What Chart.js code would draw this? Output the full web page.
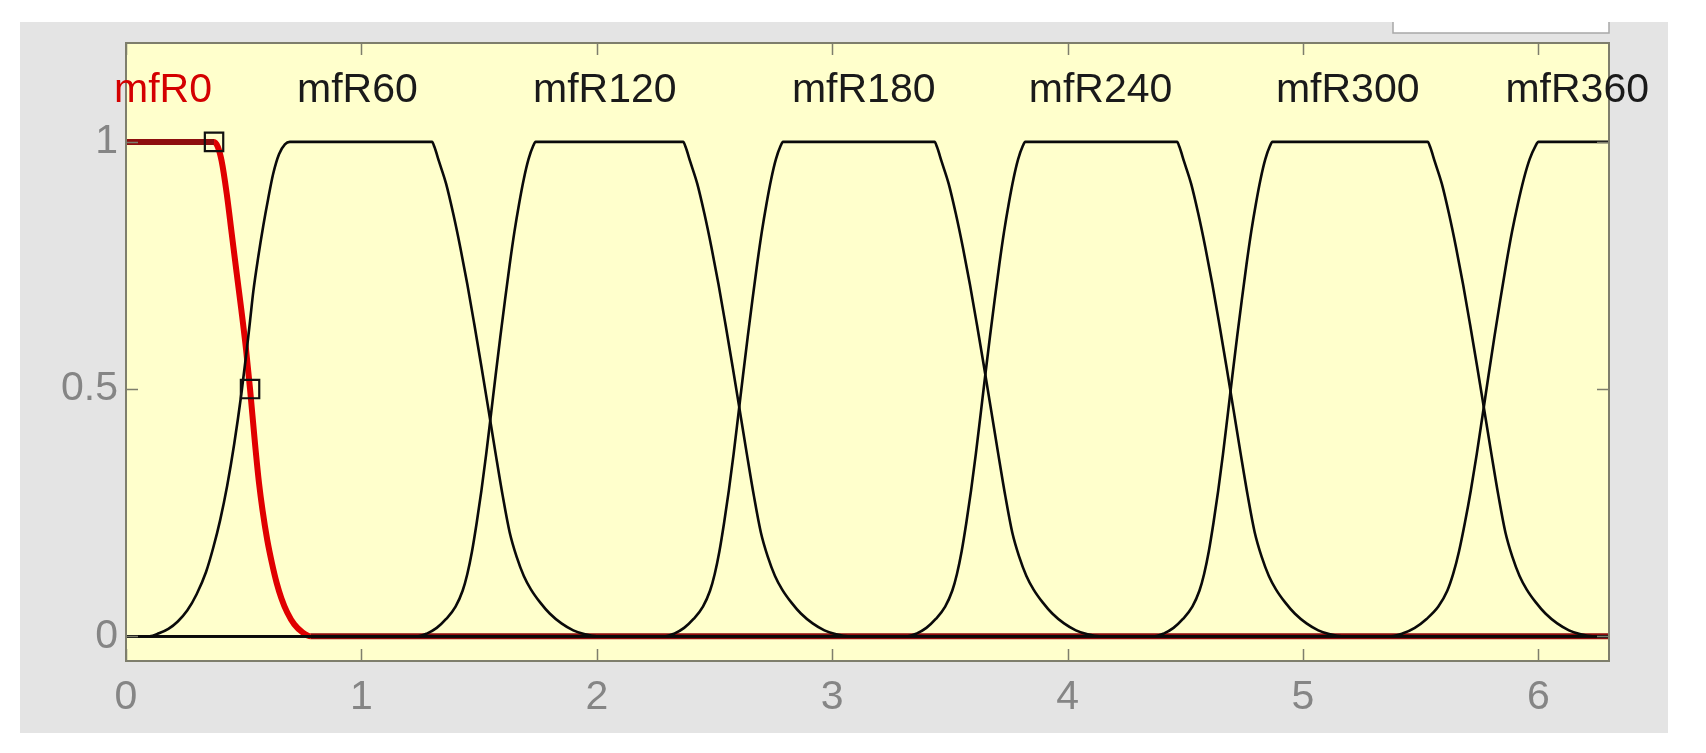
<!DOCTYPE html>
<html><head><meta charset="utf-8">
<style>html,body{margin:0;padding:0;background:#fff;}canvas{display:block;}</style>
<script src="https://cdn.jsdelivr.net/npm/chart.js@4.4.1/dist/chart.umd.min.js"></script>
</head><body>
<canvas id="c" width="1706" height="753"></canvas>
<script>
// ---- data ----
const xTicks = [0, 1, 2, 3, 4, 5, 6];
const yTicks = [0, 0.5, 1];
const mfNames = ['mfR0', 'mfR60', 'mfR120', 'mfR180', 'mfR240', 'mfR300', 'mfR360'];
const labelX = [0.157, 0.983, 2.034, 3.134, 4.14, 5.19, 6.165];
const labelY = 1.103;

const mfR0X = [0, 0.374, 0.39, 0.406, 0.428, 0.449, 0.47, 0.49, 0.51, 0.527, 0.548, 0.565, 0.58, 0.60, 0.62, 0.64, 0.66, 0.685, 0.715, 0.75, 0.785, 6.3];
const mfR0Y = [1, 1, 0.99, 0.962, 0.895, 0.815, 0.735, 0.66, 0.58, 0.50, 0.39, 0.31, 0.255, 0.195, 0.148, 0.108, 0.077, 0.048, 0.024, 0.008, 0, 0];

const mfR60X = [0, 0.10, 0.14, 0.18, 0.22, 0.26, 0.30, 0.34, 0.37, 0.40, 0.43, 0.46, 0.49, 0.512, 0.527, 0.541, 0.562, 0.583, 0.604, 0.625, 0.65, 0.675, 0.696,
  1.30, 1.31, 1.33, 1.36, 1.39, 1.42, 1.45, 1.48, 1.51, 1.54, 1.57, 1.60, 1.63, 1.66, 1.69, 1.72, 1.76, 1.80, 1.85, 1.90, 1.95, 2.0, 6.3];
const mfR60Y = [0, 0, 0.006, 0.015, 0.03, 0.052, 0.085, 0.13, 0.178, 0.235, 0.305, 0.39, 0.49, 0.575, 0.638, 0.698, 0.768, 0.83, 0.885, 0.935, 0.975, 0.995, 1,
  1, 0.99, 0.96, 0.915, 0.855, 0.787, 0.712, 0.63, 0.545, 0.458, 0.37, 0.285, 0.21, 0.16, 0.122, 0.095, 0.068, 0.046, 0.026, 0.012, 0.004, 0, 0];

const mfR120X = [0, 1.24, 1.28, 1.32, 1.36, 1.40, 1.43, 1.45, 1.47, 1.49, 1.51, 1.53, 1.55, 1.57, 1.59, 1.61, 1.63, 1.65, 1.67, 1.69, 1.71, 1.73, 1.74,
  2.367, 2.377, 2.397, 2.427, 2.457, 2.487, 2.517, 2.547, 2.577, 2.607, 2.637, 2.667, 2.697, 2.727, 2.757, 2.787, 2.827, 2.867, 2.917, 2.967, 3.017, 3.067, 6.3];
const mfR120Y = [0, 0, 0.006, 0.017, 0.035, 0.06, 0.092, 0.126, 0.172, 0.23, 0.295, 0.368, 0.447, 0.527, 0.605, 0.68, 0.752, 0.818, 0.875, 0.925, 0.965, 0.992, 1,
  1, 0.99, 0.96, 0.915, 0.855, 0.787, 0.712, 0.63, 0.545, 0.458, 0.37, 0.285, 0.21, 0.16, 0.122, 0.095, 0.068, 0.046, 0.026, 0.012, 0.004, 0, 0];

const mfR180X = [0, 2.291, 2.331, 2.371, 2.411, 2.451, 2.481, 2.501, 2.521, 2.541, 2.561, 2.581, 2.601, 2.621, 2.641, 2.661, 2.681, 2.701, 2.721, 2.741, 2.761, 2.781, 2.791,
  3.435, 3.445, 3.465, 3.495, 3.525, 3.555, 3.585, 3.615, 3.645, 3.675, 3.705, 3.735, 3.765, 3.795, 3.825, 3.855, 3.895, 3.935, 3.985, 4.035, 4.085, 4.135, 6.3];
const mfR180Y = [0, 0, 0.006, 0.017, 0.035, 0.06, 0.092, 0.126, 0.172, 0.23, 0.295, 0.368, 0.447, 0.527, 0.605, 0.68, 0.752, 0.818, 0.875, 0.925, 0.965, 0.992, 1,
  1, 0.99, 0.96, 0.915, 0.855, 0.787, 0.712, 0.63, 0.545, 0.458, 0.37, 0.285, 0.21, 0.16, 0.122, 0.095, 0.068, 0.046, 0.026, 0.012, 0.004, 0, 0];

const mfR240X = [0, 3.32, 3.36, 3.40, 3.44, 3.48, 3.51, 3.53, 3.55, 3.57, 3.59, 3.61, 3.63, 3.65, 3.67, 3.69, 3.71, 3.73, 3.75, 3.77, 3.79, 3.81, 3.82,
  4.465, 4.475, 4.495, 4.525, 4.555, 4.585, 4.615, 4.645, 4.675, 4.705, 4.735, 4.765, 4.795, 4.825, 4.855, 4.885, 4.925, 4.965, 5.015, 5.065, 5.115, 5.165, 6.3];
const mfR240Y = [0, 0, 0.006, 0.017, 0.035, 0.06, 0.092, 0.126, 0.172, 0.23, 0.295, 0.368, 0.447, 0.527, 0.605, 0.68, 0.752, 0.818, 0.875, 0.925, 0.965, 0.992, 1,
  1, 0.99, 0.96, 0.915, 0.855, 0.787, 0.712, 0.63, 0.545, 0.458, 0.37, 0.285, 0.21, 0.16, 0.122, 0.095, 0.068, 0.046, 0.026, 0.012, 0.004, 0, 0];

const mfR300X = [0, 4.37, 4.41, 4.45, 4.49, 4.53, 4.56, 4.58, 4.60, 4.62, 4.64, 4.66, 4.68, 4.70, 4.72, 4.74, 4.76, 4.78, 4.80, 4.82, 4.84, 4.86, 4.87,
  5.53, 5.54, 5.56, 5.59, 5.62, 5.65, 5.68, 5.71, 5.74, 5.77, 5.80, 5.83, 5.86, 5.89, 5.92, 5.95, 5.99, 6.03, 6.08, 6.13, 6.18, 6.23, 6.3];
const mfR300Y = [0, 0, 0.006, 0.017, 0.035, 0.06, 0.092, 0.126, 0.172, 0.23, 0.295, 0.368, 0.447, 0.527, 0.605, 0.68, 0.752, 0.818, 0.875, 0.925, 0.965, 0.992, 1,
  1, 0.99, 0.96, 0.915, 0.855, 0.787, 0.712, 0.63, 0.545, 0.458, 0.37, 0.285, 0.21, 0.16, 0.122, 0.095, 0.068, 0.046, 0.026, 0.012, 0.004, 0, 0];

const mfR360X = [0, 5.375, 5.425, 5.475, 5.525, 5.575, 5.613, 5.638, 5.663, 5.688, 5.713, 5.738, 5.763, 5.788, 5.813, 5.838, 5.863, 5.888, 5.913, 5.938, 5.963, 5.988, 6.0, 6.3];
const mfR360Y = [0, 0, 0.006, 0.017, 0.035, 0.06, 0.092, 0.126, 0.172, 0.23, 0.295, 0.368, 0.447, 0.527, 0.605, 0.68, 0.752, 0.818, 0.875, 0.925, 0.965, 0.992, 1, 1];

const markerX = [0.374, 0.527];
const markerY = [1, 0.5];

// ---- build ----
const pts = (xs, ys) => xs.map((x, i) => ({x: x, y: ys[i]}));
const blackSets = [
  [mfR60X, mfR60Y], [mfR120X, mfR120Y], [mfR180X, mfR180Y],
  [mfR240X, mfR240Y], [mfR300X, mfR300Y], [mfR360X, mfR360Y]
];
const datasets = [];
datasets.push({
  label: 'markers', data: pts(markerX, markerY), showLine: false,
  pointStyle: 'rect', pointRadius: 13, pointBorderWidth: 2.2,
  pointBorderColor: '#111', pointBackgroundColor: 'rgba(0,0,0,0)', order: 0
});
blackSets.forEach((s, i) => datasets.push({
  label: mfNames[i + 1], data: pts(s[0], s[1]), borderColor: '#0a0a0a', borderWidth: 2.6,
  pointRadius: 0, cubicInterpolationMode: 'monotone', fill: false, order: 1
}));
datasets.push({
  label: mfNames[0], data: pts(mfR0X, mfR0Y), borderColor: '#e00000', borderWidth: 6,
  pointRadius: 0, cubicInterpolationMode: 'monotone', fill: false, order: 2,
  segment: { borderColor: c => (c.p0.parsed.y === c.p1.parsed.y ? '#8e0e0e' : '#e00000') }
});

const AXIS = '#7e7e6c';
const TICKC = '#858585';
const FONT = '"Liberation Sans", Arial, sans-serif';

const decor = {
  id: 'decor',
  beforeDraw(chart) {
    const ctx = chart.ctx, a = chart.chartArea;
    ctx.save();
    ctx.fillStyle = '#ffffff';
    ctx.fillRect(0, 0, chart.width, chart.height);
    ctx.fillStyle = '#e4e4e4';
    ctx.fillRect(20, 22, 1648, 711);
    ctx.fillStyle = '#ffffff';
    ctx.fillRect(1393, 22, 216, 11);
    ctx.strokeStyle = '#a8a8a8';
    ctx.lineWidth = 1.5;
    ctx.beginPath();
    ctx.moveTo(1393, 22); ctx.lineTo(1393, 33); ctx.lineTo(1609, 33); ctx.lineTo(1609, 22);
    ctx.stroke();
    ctx.fillStyle = '#ffffcc';
    ctx.fillRect(a.left, a.top, a.right - a.left, a.bottom - a.top);
    ctx.restore();
  },
  afterDraw(chart) {
    const ctx = chart.ctx, a = chart.chartArea;
    const xs = chart.scales.x, ys = chart.scales.y;
    ctx.save();
    ctx.strokeStyle = AXIS;
    ctx.lineWidth = 2;
    ctx.strokeRect(a.left, a.top, a.right - a.left, a.bottom - a.top);
    ctx.lineWidth = 1.5;
    ctx.beginPath();
    const tl = 12;
    xTicks.forEach(v => {
      const px = Math.round(xs.getPixelForValue(v)) + 0.5;
      ctx.moveTo(px, a.bottom); ctx.lineTo(px, a.bottom - tl);
      ctx.moveTo(px, a.top); ctx.lineTo(px, a.top + tl);
    });
    yTicks.forEach(v => {
      const py = Math.round(ys.getPixelForValue(v)) + 0.5;
      ctx.moveTo(a.left, py); ctx.lineTo(a.left + tl, py);
      ctx.moveTo(a.right, py); ctx.lineTo(a.right - tl, py);
    });
    ctx.stroke();
    ctx.font = '41px ' + FONT;
    ctx.textAlign = 'center';
    ctx.textBaseline = 'middle';
    mfNames.forEach((n, i) => {
      ctx.fillStyle = i === 0 ? '#d40000' : '#1a1a1a';
      ctx.fillText(n, xs.getPixelForValue(labelX[i]), ys.getPixelForValue(labelY));
    });
    ctx.restore();
  }
};

new Chart(document.getElementById('c'), {
  type: 'line',
  data: { datasets: datasets },
  options: {
    responsive: false, animation: false, devicePixelRatio: 1,
    layout: { padding: { left: 0, top: 43, right: 97, bottom: 0 } },
    plugins: { legend: { display: false }, tooltip: { enabled: false } },
    scales: {
      x: {
        type: 'linear', min: 0, max: 6.3,
        grid: { display: false, drawTicks: false }, border: { display: false },
        ticks: { color: TICKC, font: { size: 41, family: FONT }, padding: 12, maxRotation: 0,
                 callback: v => String(v) },
        afterBuildTicks: s => { s.ticks = xTicks.map(v => ({ value: v })); },
        afterFit: s => { s.height = 92; }
      },
      y: {
        type: 'linear', min: -0.05, max: 1.2,
        grid: { display: false, drawTicks: false }, border: { display: false },
        ticks: { color: TICKC, font: { size: 41, family: FONT }, padding: 8,
                 callback: v => String(v) },
        afterBuildTicks: s => { s.ticks = yTicks.map(v => ({ value: v })); },
        afterFit: s => { s.width = 126; }
      }
    }
  },
  plugins: [decor]
});
</script>
</body></html>
